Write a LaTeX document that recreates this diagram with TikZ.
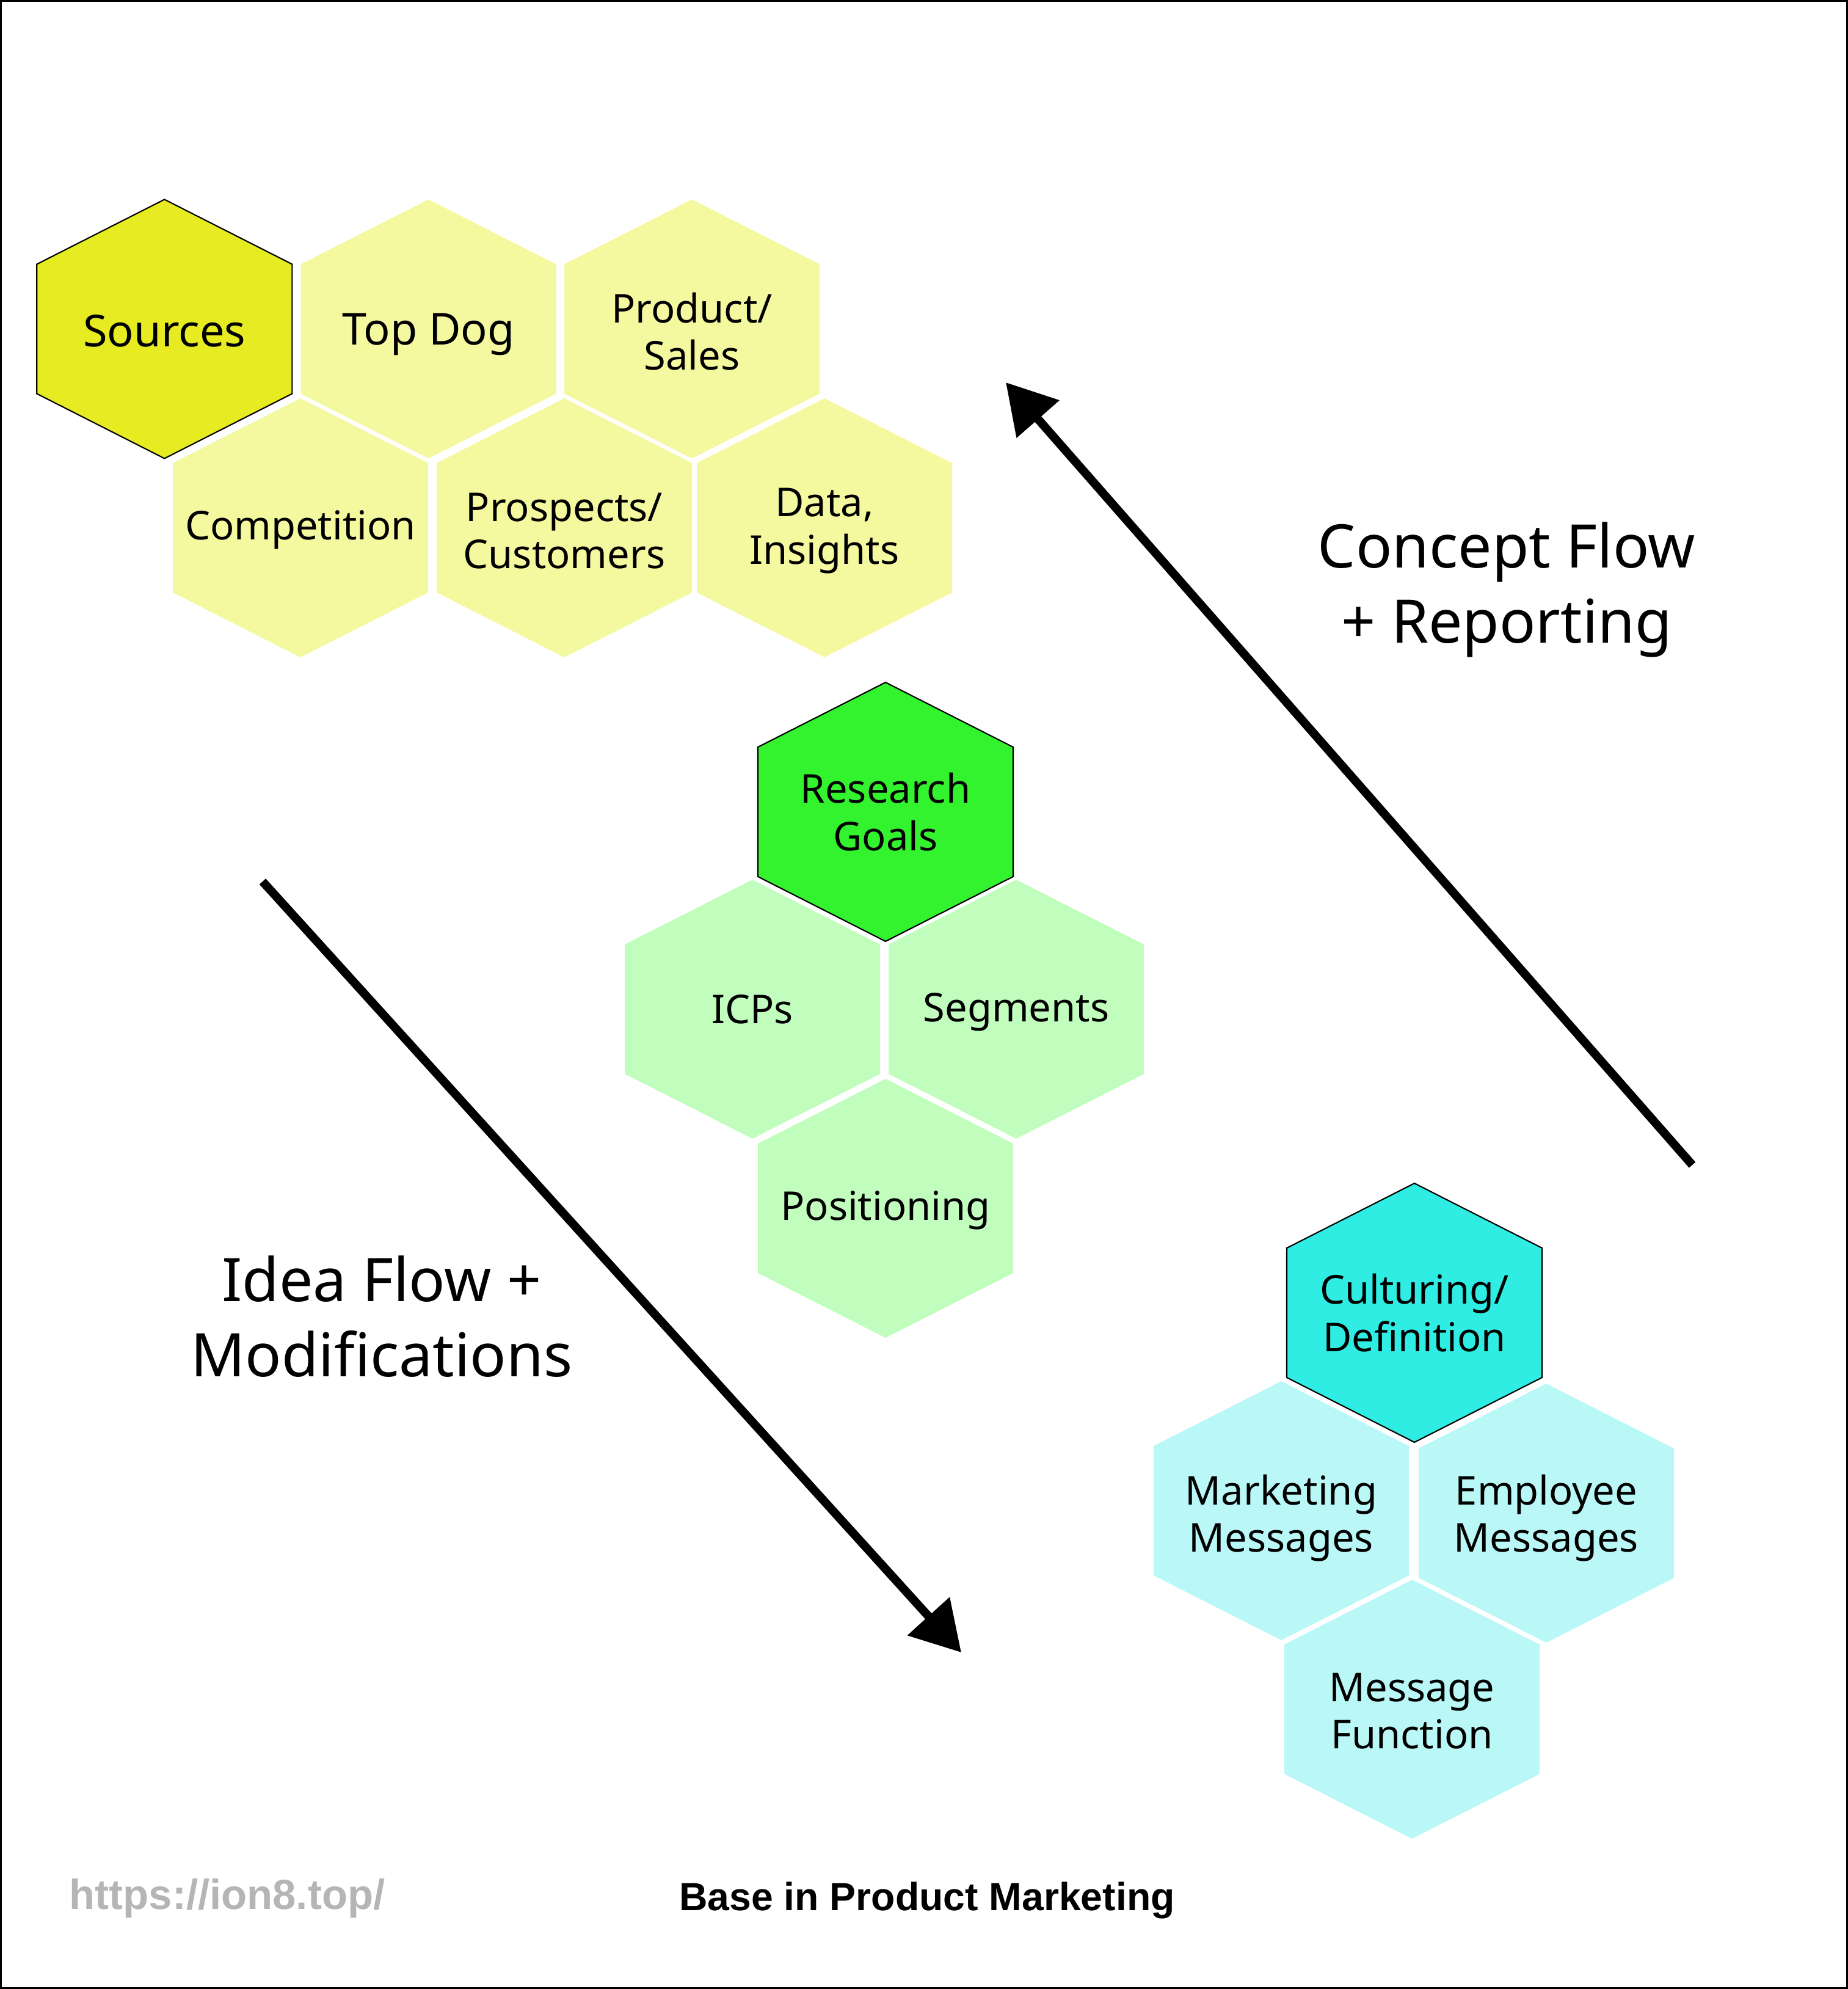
\documentclass[tikz,border=0pt]{standalone}
\usepackage{fontspec}
\setmainfont{Noto Sans}
\newfontfamily\footfont{Liberation Sans}
\usepackage{tikz}
\usetikzlibrary{arrows.meta,positioning}
\usepackage{xcolor}

\definecolor{srcyellow}{HTML}{E7EB22}
\definecolor{paleyellow}{HTML}{F4F89F}
\definecolor{goalgreen}{HTML}{33F22E}
\definecolor{palegreen}{HTML}{C1FEBE}
\definecolor{cultcyan}{HTML}{2FEDE3}
\definecolor{palecyan}{HTML}{B9F8F6}
\definecolor{urlgray}{HTML}{B5B5B5}

\begin{document}
\begin{tikzpicture}[
    small/.style={align=center, font=\fontsize{18.5}{22}\selectfont},
    big/.style={align=center, font=\fontsize{20.5}{24}\selectfont},
    flowlabel/.style={align=center, font=\fontsize{28}{35}\selectfont},
    flowarrow/.style={line width=0.14cm, -{Triangle[length=0.8cm, width=0.9cm]}},
    footer/.style={inner sep=0, font=\footfont\bfseries\fontsize{18.3}{21}\selectfont}
]
% canvas: 1 unit = 100px of the original, y runs downwards
\useasboundingbox (0,0) rectangle (30.26,-32.56);
\draw[line width=0.03cm] (0.015,-0.015) rectangle (30.245,-32.545);

\def\hw{2.09}  % half width of a cell
\def\hh{2.12}  % half height of a cell

% Cells: x / y / fill / edge / name / style / text shift / text
\foreach \x/\y/\col/\edge/\nm/\sty/\dy/\txt in {
    2.693/-5.385/srcyellow/black/src/big/-0.03/{Sources},
    7.015/-5.385/paleyellow/none/topdog/big/-0.09/{Top Dog},
    11.33/-5.385/paleyellow/none/product/small/-0.04/{Product/\\Sales},
    4.92/-8.64/paleyellow/none/compet/small/-0.03/{Competition},
    9.24/-8.64/paleyellow/none/prospects/small/-0.05/{Prospects/\\Customers},
    13.50/-8.64/paleyellow/none/data/small/-0.05/{Data,\\Insights},
    14.50/-13.29/goalgreen/black/goals/small/0/{Research\\Goals},
    12.32/-16.52/palegreen/none/icps/small/0/{ICPs},
    16.64/-16.52/palegreen/none/segments/small/-0.05/{Segments},
    14.50/-19.78/palegreen/none/position/small/-0.03/{Positioning},
    23.16/-21.49/cultcyan/black/cultur/small/0/{Culturing/\\Definition},
    20.98/-24.73/palecyan/none/mktmsg/small/-0.12/{Marketing\\Messages},
    25.32/-24.77/palecyan/none/empmsg/small/-0.08/{Employee\\Messages},
    23.12/-27.98/palecyan/none/msgfunc/small/-0.03/{Message\\Function}%
} {
  \path[fill=\col, draw=\edge, line width=0.6pt] (\x,\y) ++(0,\hh)
    -- ++(\hw,-0.5*\hh) -- ++(0,-\hh) -- ++(-\hw,-0.5*\hh)
    -- ++(-\hw,0.5*\hh) -- ++(0,\hh) -- cycle;
  \node[\sty] (\nm) at (\x,\y+\dy) {\txt};
}

% Flow arrows
\coordinate (conceptTail) at (27.71,-19.07);
\coordinate (conceptTip) at (16.47,-6.26);
\draw[flowarrow] (conceptTail) -- (conceptTip);

\coordinate (ideaTail) at (4.30,-14.43);
\coordinate (ideaTip) at (15.74,-27.05);
\draw[flowarrow] (ideaTail) -- (ideaTip);

\node[flowlabel] (concept) at (24.67,-9.65) {Concept Flow\\+ Reporting};
\node[flowlabel] (idea) at (6.25,-21.55) {Idea Flow +\\Modifications};

% Footer
\node[footer, anchor=base west, text=urlgray,
      font=\footfont\bfseries\fontsize{19.6}{22}\selectfont] (url) at (1.13,-31.25) {https://ion8.top/};
\node[footer, anchor=base] (title) at (15.18,-31.27) {Base in Product Marketing};
\end{tikzpicture}
\end{document}
